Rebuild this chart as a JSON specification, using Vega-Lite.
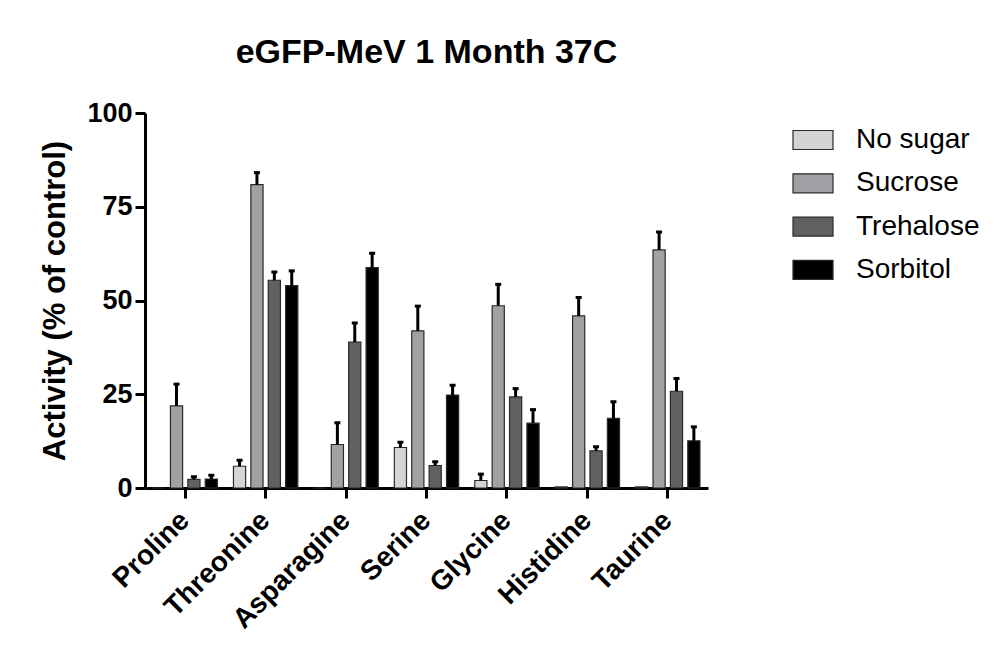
{
  "$schema": "https://vega.github.io/schema/vega-lite/v6.json",
  "width": 563,
  "height": 375,
  "autosize": {"type": "none"},
  "padding": {"left": 145, "top": 113, "right": 299, "bottom": 173},
  "background": "white",
  "title": {
    "text": "eGFP-MeV 1 Month 37C",
    "font": "Liberation Sans",
    "fontSize": 34,
    "fontWeight": "bold",
    "color": "black",
    "anchor": "middle",
    "frame": "group",
    "baseline": "alphabetic",
    "offset": 2
  },
  "config": {
    "view": {"stroke": null},
    "axis": {
      "domainColor": "black",
      "domainWidth": 3,
      "tickColor": "black",
      "tickWidth": 3,
      "tickSize": 10,
      "labelColor": "black",
      "labelFont": "Liberation Sans",
      "labelFontWeight": "bold",
      "labelFontSize": 27,
      "titleColor": "black",
      "titleFont": "Liberation Sans",
      "titleFontWeight": "bold",
      "grid": false
    }
  },
  "data": {
    "values": [
      {"amino": "Proline", "sugar": "No sugar", "value": 0},
      {"amino": "Proline", "sugar": "Sucrose", "value": 21.9, "err": 27.7},
      {"amino": "Proline", "sugar": "Trehalose", "value": 2.3, "err": 3.0},
      {"amino": "Proline", "sugar": "Sorbitol", "value": 2.4, "err": 3.4},
      {"amino": "Threonine", "sugar": "No sugar", "value": 5.8, "err": 7.4},
      {"amino": "Threonine", "sugar": "Sucrose", "value": 80.9, "err": 84.1},
      {"amino": "Threonine", "sugar": "Trehalose", "value": 55.4, "err": 57.6},
      {"amino": "Threonine", "sugar": "Sorbitol", "value": 54.0, "err": 57.9},
      {"amino": "Asparagine", "sugar": "No sugar", "value": 0},
      {"amino": "Asparagine", "sugar": "Sucrose", "value": 11.6, "err": 17.4},
      {"amino": "Asparagine", "sugar": "Trehalose", "value": 38.9, "err": 44.0},
      {"amino": "Asparagine", "sugar": "Sorbitol", "value": 58.8, "err": 62.6},
      {"amino": "Serine", "sugar": "No sugar", "value": 10.8, "err": 12.2},
      {"amino": "Serine", "sugar": "Sucrose", "value": 41.9, "err": 48.5},
      {"amino": "Serine", "sugar": "Trehalose", "value": 6.0, "err": 7.0},
      {"amino": "Serine", "sugar": "Sorbitol", "value": 24.8, "err": 27.4},
      {"amino": "Glycine", "sugar": "No sugar", "value": 2.0, "err": 3.7},
      {"amino": "Glycine", "sugar": "Sucrose", "value": 48.6, "err": 54.3},
      {"amino": "Glycine", "sugar": "Trehalose", "value": 24.3, "err": 26.5},
      {"amino": "Glycine", "sugar": "Sorbitol", "value": 17.3, "err": 20.9},
      {"amino": "Histidine", "sugar": "No sugar", "value": 0.3},
      {"amino": "Histidine", "sugar": "Sucrose", "value": 45.9, "err": 50.8},
      {"amino": "Histidine", "sugar": "Trehalose", "value": 9.9, "err": 11.0},
      {"amino": "Histidine", "sugar": "Sorbitol", "value": 18.6, "err": 23.0},
      {"amino": "Taurine", "sugar": "No sugar", "value": 0.3},
      {"amino": "Taurine", "sugar": "Sucrose", "value": 63.5, "err": 68.3},
      {"amino": "Taurine", "sugar": "Trehalose", "value": 25.8, "err": 29.2},
      {"amino": "Taurine", "sugar": "Sorbitol", "value": 12.6, "err": 16.3}
    ]
  },
  "encoding": {
    "x": {
      "field": "amino",
      "type": "nominal",
      "sort": ["Proline", "Threonine", "Asparagine", "Serine", "Glycine", "Histidine", "Taurine"],
      "scale": {"paddingInner": 0.2, "paddingOuter": 0.1},
      "axis": {
        "title": null,
        "labelAngle": -45,
        "labelAlign": "right",
        "labelBaseline": "middle",
        "labelFontSize": 28,
        "labelPadding": 18
      }
    },
    "xOffset": {
      "field": "sugar",
      "type": "nominal",
      "sort": ["No sugar", "Sucrose", "Trehalose", "Sorbitol"],
      "scale": {"paddingInner": 0.3, "paddingOuter": 0}
    }
  },
  "layer": [
    {
      "mark": {"type": "bar", "stroke": "#2a2a2a", "strokeWidth": 1.2},
      "encoding": {
        "y": {
          "field": "value",
          "type": "quantitative",
          "scale": {"domain": [0, 100], "nice": false},
          "axis": {
            "values": [0, 25, 50, 75, 100],
            "title": "Activity (% of control)",
            "titleFontSize": 31,
            "titlePadding": 15,
            "labelPadding": 3
          }
        },
        "fill": {
          "field": "sugar",
          "type": "nominal",
          "sort": ["No sugar", "Sucrose", "Trehalose", "Sorbitol"],
          "scale": {
            "domain": ["No sugar", "Sucrose", "Trehalose", "Sorbitol"],
            "range": ["#d4d4d4", "#a1a1a5", "#616161", "#000000"]
          },
          "legend": {
            "title": null,
            "orient": "none",
            "legendX": 647,
            "legendY": 6,
            "symbolType": "M-1,-0.475L1,-0.475L1,0.475L-1,0.475Z",
            "symbolSize": 1600,
            "symbolStrokeColor": "#2a2a2a",
            "symbolStrokeWidth": 1.2,
            "symbolOpacity": 1,
            "labelFont": "Liberation Sans",
            "labelFontSize": 28,
            "labelColor": "black",
            "labelOffset": 22,
            "rowPadding": 8.3
          }
        }
      }
    },
    {
      "transform": [{"filter": "isValid(datum.err)"}],
      "mark": {"type": "rule", "color": "black", "strokeWidth": 3},
      "encoding": {
        "y": {"field": "value", "type": "quantitative"},
        "y2": {"field": "err"}
      }
    },
    {
      "transform": [{"filter": "isValid(datum.err)"}],
      "mark": {"type": "tick", "color": "black", "size": 6, "thickness": 3, "opacity": 1},
      "encoding": {
        "y": {"field": "err", "type": "quantitative"}
      }
    }
  ]
}
